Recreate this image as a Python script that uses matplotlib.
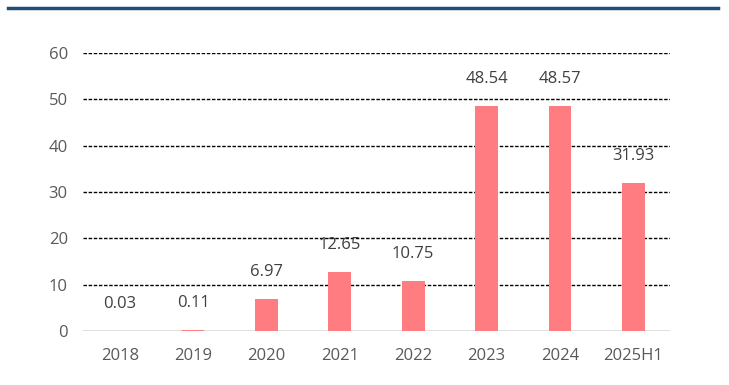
import matplotlib.pyplot as plt
from matplotlib.lines import Line2D

# Daten
years = ['2018', '2019', '2020', '2021', '2022', '2023', '2024', '2025H1']
values = [0.03, 0.11, 6.97, 12.65, 10.75, 48.54, 48.57, 31.93]

plt.rcParams['font.family'] = ['Open Sans', 'DejaVu Sans']

fig = plt.figure(figsize=(7.29, 3.85), dpi=100)
ax = fig.add_axes([0.1139, 0.1403, 0.8051, 0.722])

x = range(len(years))
ax.bar(x, values, width=0.31, color='#FF7C80', zorder=3)

for xi, v in zip(x, values):
    ax.annotate(f'{v:.2f}', (xi, v), xytext=(0, 19.5), textcoords='offset points',
                ha='center', va='center', fontsize=12, color='#404040')

ax.set_xlim(-0.5, len(years) - 0.5)
ax.set_ylim(0, 60)
ax.set_yticks(range(0, 61, 10))
ax.set_xticks(list(x))
ax.set_xticklabels(years)

for yv in range(10, 61, 10):
    ax.axhline(yv, color='black', linestyle=(0, (2.5, 1.2)), linewidth=1, zorder=1)
ax.axhline(0, color='#D9D9D9', linewidth=1.2, zorder=2)

for s in ax.spines.values():
    s.set_visible(False)
ax.tick_params(axis='both', length=0, labelsize=12, colors='#595959')
ax.tick_params(axis='x', pad=12.5)
ax.tick_params(axis='y', pad=11)

# blaue Linie oben
fig.add_artist(Line2D([8 / 729, 718 / 729], [1 - 8 / 385, 1 - 8 / 385],
                      color='#1F4E79', linewidth=2.5, transform=fig.transFigure))

fig.savefig('out.png', dpi=100)
